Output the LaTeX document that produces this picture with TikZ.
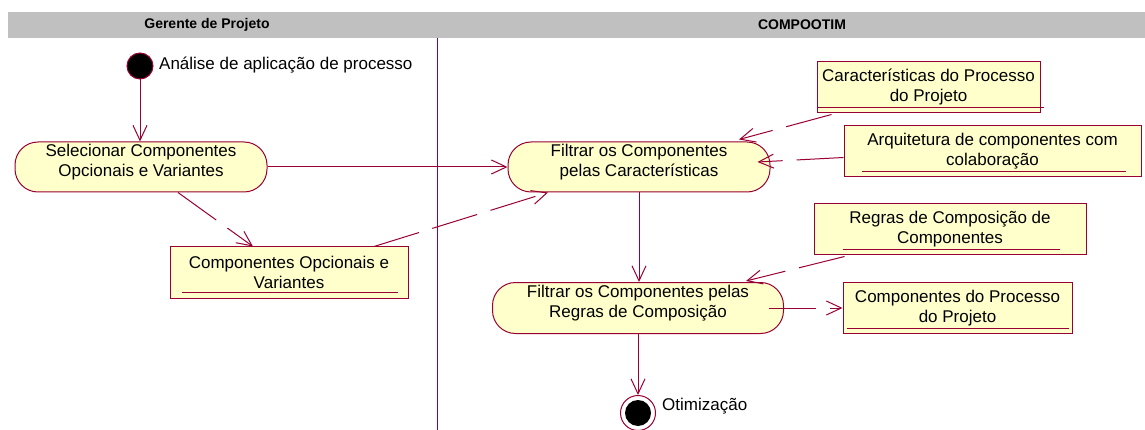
\documentclass[tikz,border=0pt]{standalone}
\usepackage{fontspec}
\setmainfont{Liberation Sans}
\usepackage{xcolor}
\usetikzlibrary{arrows.meta}
\definecolor{roseline}{RGB}{153,0,51}
\definecolor{rosefill}{RGB}{255,255,204}
\definecolor{lanegray}{RGB}{192,192,192}

\begin{document}
\begin{tikzpicture}[
    x=1pt,y=-1pt,
    >={Straight Barb[length=15pt,width=14pt]},
    every node/.style={font=\fontsize{17}{20}\selectfont},
    act/.style={draw=roseline,fill=rosefill,line width=1pt,rounded corners=23pt,align=center,inner sep=0pt,text depth=13.5pt},
    obj/.style={draw=roseline,fill=rosefill,line width=1pt,align=center,inner sep=0pt,minimum height=51pt},
    flow/.style={->,draw=roseline,line width=1pt},
    dep/.style={->,draw=roseline,line width=1pt,dash pattern=on 47pt off 14pt},
    uline/.style={draw=roseline,line width=1pt},
    lane/.style={font=\fontsize{14}{16}\selectfont\bfseries}
]
\useasboundingbox (0,0) rectangle (1145,430);

% swimlanes
\fill[lanegray] (8,12) rectangle (1145,38);
\node[lane] (laneA) at (207,25) {Gerente de Projeto};
\node[lane] (laneB) at (802,25) {COMPOOTIM};
\draw[roseline,line width=1pt] (437,38) -- (437,430);

% start / end
\node[circle,draw=roseline,fill=black,line width=1pt,minimum size=26pt,inner sep=0pt] (start) at (140,66) {};
\node[anchor=west,inner sep=0pt] (startlbl) at (159,65) {Análise de aplicação de processo};
\node[circle,draw=roseline,line width=1pt,minimum size=35pt,inner sep=0pt] (fim) at (638,413) {};
\node[circle,fill=black,minimum size=26pt,inner sep=0pt] (fimdot) at (fim) {};
\node[anchor=west,inner sep=0pt] (fimlbl) at (662,406) {Otimização};

% activities
\node[act,minimum width=252pt,minimum height=50pt] (sel) at (141,167) {Selecionar Componentes\\Opcionais e Variantes};
\node[act,minimum width=262pt,minimum height=50pt] (filt1) at (639,167) {Filtrar os Componentes\\pelas Características};
\node[act,minimum width=291pt,minimum height=51pt] (filt2) at (638,308) {Filtrar os Componentes pelas\\Regras de Composição};

% objects
\node[obj,minimum width=238pt] (opc) at (289,272.5) {Componentes Opcionais e\\Variantes};
\node[obj,minimum width=223pt] (carac) at (928.5,87.5) {Características do Processo\\do Projeto};
\node[obj,minimum width=297pt] (arq) at (992.5,151.5) {Arquitetura de componentes com\\colaboração};
\node[obj,minimum width=272pt] (regras) at (950,229.5) {Regras de Composição de\\Componentes};
\node[obj,minimum width=229pt] (cproc) at (957.5,308) {Componentes do Processo\\do Projeto};

\draw[uline] ([xshift=12,yshift=6]opc.south west) -- ([xshift=-11,yshift=6]opc.south east);
\draw[uline] ([yshift=6]carac.south west) -- ([xshift=3,yshift=6]carac.south east);
\draw[uline] ([xshift=18,yshift=6]arq.south west) -- ([xshift=-16,yshift=6]arq.south east);
\draw[uline] ([xshift=29,yshift=6]regras.south west) -- ([xshift=-27,yshift=6]regras.south east);
\draw[uline] ([xshift=4,yshift=6]cproc.south west) -- ([xshift=-4,yshift=6]cproc.south east);

% control flow
\draw[flow] (start) -- (start |- sel.north);
\draw[flow] (sel) -- (filt1);
\draw[flow] (filt1.south) -- (filt1.south |- filt2.north);
\draw[flow] (filt2) -- (fim);

% object flow
\draw[dep] ([xshift=37]sel.south) -- ([xshift=-36]opc.north);
\draw[dep] ([xshift=85]opc.north) -- ([xshift=-91]filt1.south);
\draw[dep] ([xshift=15,yshift=-1]carac.south west) -- ([xshift=100,yshift=2]filt1.north);
\draw[dep] ([yshift=-6]arq.west) -- ([xshift=-13,yshift=5]filt1.east);
\draw[dep] ([xshift=31,yshift=-1]regras.south west) -- ([xshift=108,yshift=1]filt2.north);
\draw[dep] ([xshift=-15]filt2.east) -- (cproc.west);
\end{tikzpicture}
\end{document}
